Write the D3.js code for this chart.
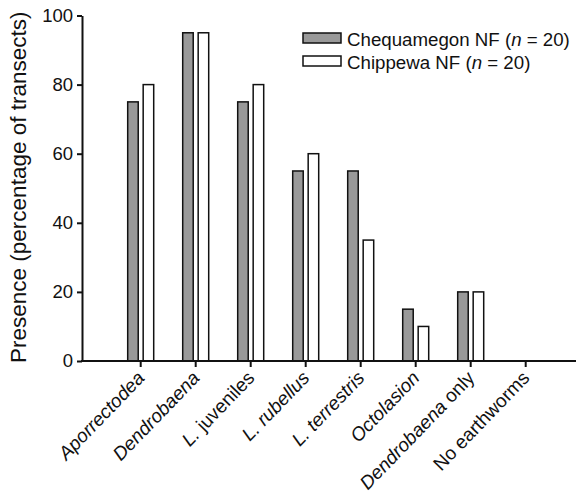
<!DOCTYPE html>
<html>
<head>
<meta charset="utf-8">
<script src="https://cdn.jsdelivr.net/npm/d3@7"></script>
<style>
  body { margin: 0; background: #fff; }
  svg { font-family: "Liberation Sans", Arial, sans-serif; }
</style>
</head>
<body>
<div id="chart-container"></div>
<script>
// categories on the x axis, each as text parts [text, italic]
const categories = [
	[['Aporrectodea', true]],
	[['Dendrobaena', true]],
	[['L.', true], [' juveniles', false]],
	[['L. rubellus', true]],
	[['L. terrestris', true]],
	[['Octolasion', true]],
	[['Dendrobaena', true], [' only', false]],
	[['No earthworms', false]],
];
const seriesNames = ['Chequamegon NF', 'Chippewa NF'];
const chequamegon = [75, 95, 75, 55, 55, 15, 20, 0];
const chippewa = [80, 95, 80, 60, 35, 10, 20, 0];
const yTicks = [0, 20, 40, 60, 80, 100];

const width = 576;
const height = 494;
const colors = ['#999999', '#ffffff'];

const svg = d3
	.select('#chart-container')
	.append('svg')
	.attr('width', width)
	.attr('height', height);

const keys = categories.map((c, i) => 'c' + i);

const x = d3.scaleBand().domain(keys).range([113.2, 553.2]).padding(0);
const x1 = d3.scaleBand().domain(seriesNames).range([14.5, 40.5]).paddingInner(0.32);
const y = d3.scaleLinear().domain([0, 100]).range([361, 15.5]);

// bars
const seriesData = [chequamegon, chippewa];
seriesData.forEach((values, s) => {
	svg
		.append('g')
		.selectAll('rect')
		.data(values)
		.enter()
		.append('rect')
		.attr('x', (d, i) => x(keys[i]) + x1(seriesNames[s]))
		.attr('y', (d) => y(d))
		.attr('width', x1.bandwidth())
		.attr('height', (d) => y(0) - y(d))
		.style('fill', colors[s])
		.style('stroke', d => d > 0 ? '#111' : 'none')
		.style('stroke-width', 1.5);
});

// y axis
const yAxis = svg
	.append('g')
	.attr('transform', 'translate(82,0)')
	.call(d3.axisLeft(y).tickValues(yTicks).tickSize(5).tickSizeOuter(0).tickPadding(4));
yAxis.select('.domain').attr('stroke', '#111').attr('stroke-width', 2);
yAxis.selectAll('.tick line').attr('stroke', '#111').attr('stroke-width', 2);
yAxis.selectAll('.tick text')
	.style('font-size', '18.5px')
	.style('font-family', '"Liberation Sans", Arial, sans-serif')
	.attr('fill', '#111');

// x axis
const xAxis = svg
	.append('g')
	.attr('transform', `translate(0,${y(0)})`)
	.call(d3.axisBottom(x).tickSize(6).tickSizeOuter(0).tickFormat(''));
xAxis.select('.domain').remove();
xAxis.selectAll('.tick line').attr('stroke', '#111').attr('stroke-width', 2);
svg
	.append('line')
	.attr('x1', 81)
	.attr('x2', width)
	.attr('y1', y(0))
	.attr('y2', y(0))
	.attr('stroke', '#111')
	.attr('stroke-width', 2);

// rotated category labels
const labels = svg
	.append('g')
	.selectAll('text')
	.data(categories)
	.enter()
	.append('text')
	.attr('transform', (d, i) => `translate(${x(keys[i]) + x.bandwidth() / 2 + 5},${y(0) + 18}) rotate(-46)`)
	.attr('text-anchor', 'end')
	.style('font-size', '19px')
	.attr('fill', '#111');
labels
	.selectAll('tspan')
	.data((d) => d)
	.enter()
	.append('tspan')
	.style('font-style', (d) => (d[1] ? 'italic' : 'normal'))
	.attr('xml:space', 'preserve')
	.text((d) => d[0]);

// y axis title
svg
	.append('text')
	.attr('transform', `translate(26,${(y(0) + y(100)) / 2 - 1}) rotate(-90)`)
	.attr('text-anchor', 'middle')
	.style('font-size', '22.5px')
	.attr('fill', '#111')
	.text('Presence (percentage of transects)');

// legend
const legend = svg.append('g').attr('transform', 'translate(303,33)');
seriesNames.forEach((name, s) => {
	const row = legend.append('g').attr('transform', `translate(0,${s * 23})`);
	row
		.append('rect')
		.attr('width', 38)
		.attr('height', 10)
		.style('fill', colors[s])
		.style('stroke', '#111')
		.style('stroke-width', 1.5);
	const t = row
		.append('text')
		.attr('x', 44)
		.attr('y', 13)
		.style('font-size', '18.7px')
		.attr('fill', '#111');
	t.append('tspan').text(name + ' (');
	t.append('tspan').style('font-style', 'italic').text('n');
	t.append('tspan').text(' = 20)');
});
</script>
</body>
</html>
